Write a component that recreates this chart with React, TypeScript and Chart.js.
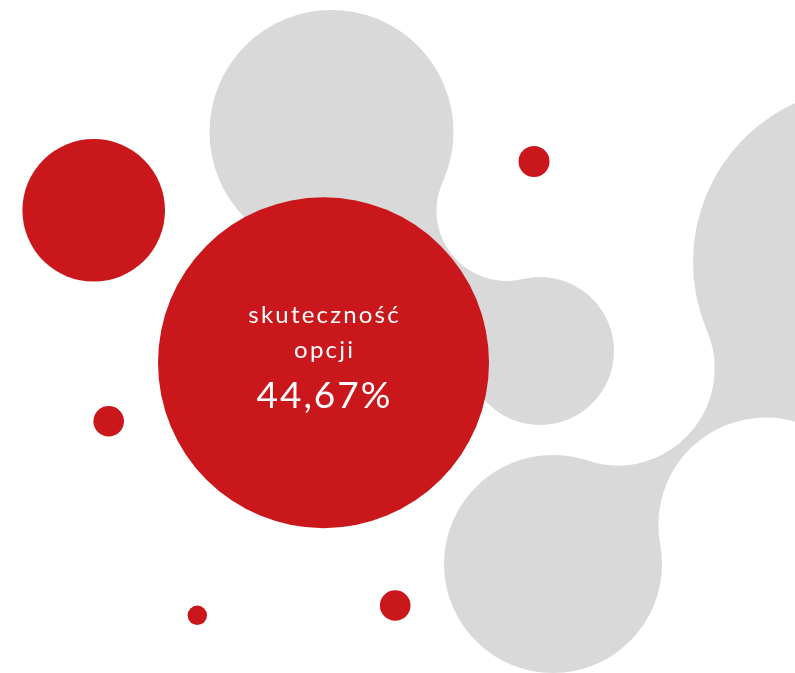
import React, { useEffect, useRef } from "react";
import { Chart, registerables } from "chart.js";

Chart.register(...registerables);

const W = 795;
const H = 673;
const RED = "#C9171C";
const GRAY = "#D9D9D9";

// red bubbles (first one carries the label)
const redX = [323.5, 93.7, 534, 108.7, 197.3, 395.2];
const redY = [362.7, 210.3, 161.5, 421.3, 615.3, 605.5];
const redR = [165.5, 71.3, 15.5, 15.3, 9.7, 15.3];

// gray bubbles
const grayX = [331.5, 540, 868, 553];
const grayY = [132, 351, 262, 564];
const grayR = [122, 74, 175, 109];

// gray bubbles joined by smooth necks
const neckFrom = [0, 2];
const neckTo = [1, 3];
const neckFilletPos = [70, 97];
const neckFilletNeg = [70, 107];

const labelLines = ["skuteczność", "opcji"];
const valueLabel = "44,67%";

const neckPlugin = {
  id: "necks",
  beforeDatasetsDraw(chart: any) {
    const { ctx, scales } = chart;
    const xs = scales.x;
    const ys = scales.y;
    ctx.save();
    ctx.fillStyle = GRAY;
    for (let i = 0; i < neckFrom.length; i++) {
      const a = neckFrom[i];
      const b = neckTo[i];
      const c1x = xs.getPixelForValue(grayX[a]);
      const c1y = ys.getPixelForValue(grayY[a]);
      const c2x = xs.getPixelForValue(grayX[b]);
      const c2y = ys.getPixelForValue(grayY[b]);
      const r1 = grayR[a];
      const r2 = grayR[b];
      const dx = c2x - c1x;
      const dy = c2y - c1y;
      const d = Math.hypot(dx, dy);
      const ux = dx / d;
      const uy = dy / d;
      const nx = -uy;
      const ny = ux;
      const fillet = (R: number, sign: number) => {
        const d1 = r1 + R;
        const d2 = r2 + R;
        const along = (d1 * d1 - d2 * d2 + d * d) / (2 * d);
        const h = Math.sqrt(Math.max(0, d1 * d1 - along * along));
        const px = c1x + ux * along + sign * nx * h;
        const py = c1y + uy * along + sign * ny * h;
        const t1x = c1x + ((px - c1x) * r1) / d1;
        const t1y = c1y + ((py - c1y) * r1) / d1;
        const t2x = c2x + ((px - c2x) * r2) / d2;
        const t2y = c2y + ((py - c2y) * r2) / d2;
        return { px, py, R, t1x, t1y, t2x, t2y };
      };
      const arc = (f: any, sx: number, sy: number, ex: number, ey: number) => {
        const a1 = Math.atan2(sy - f.py, sx - f.px);
        const a2 = Math.atan2(ey - f.py, ex - f.px);
        let diff = a2 - a1;
        while (diff > Math.PI) diff -= 2 * Math.PI;
        while (diff <= -Math.PI) diff += 2 * Math.PI;
        ctx.arc(f.px, f.py, f.R, a1, a2, diff < 0);
      };
      const fp = fillet(neckFilletPos[i], 1);
      const fn = fillet(neckFilletNeg[i], -1);
      ctx.beginPath();
      ctx.moveTo(fp.t1x, fp.t1y);
      arc(fp, fp.t1x, fp.t1y, fp.t2x, fp.t2y);
      ctx.lineTo(fn.t2x, fn.t2y);
      arc(fn, fn.t2x, fn.t2y, fn.t1x, fn.t1y);
      ctx.closePath();
      ctx.fill();
    }
    ctx.restore();
  },
};

const labelPlugin = {
  id: "centerLabel",
  afterDatasetsDraw(chart: any) {
    const { ctx } = chart;
    const el = chart.getDatasetMeta(0).data[0];
    if (!el) return;
    const cx = el.x;
    const cy = el.y;
    ctx.save();
    ctx.fillStyle = "#FFFFFF";
    ctx.textAlign = "center";
    ctx.textBaseline = "alphabetic";
    const draw = (t: string, font: string, ls: number, dy: number) => {
      ctx.font = font;
      try {
        (ctx as any).letterSpacing = ls + "px";
      } catch (e) {}
      ctx.fillText(t, cx + ls / 2, cy + dy);
    };
    draw(labelLines[0], "400 24px Lato", 2.2, -39.4);
    draw(labelLines[1], "400 24px Lato", 2.2, -4.4);
    draw(valueLabel, "400 37px Lato", 2, 45.6);
    ctx.restore();
  },
};

export default function App() {
  const ref = useRef<HTMLCanvasElement | null>(null);
  useEffect(() => {
    document.body.style.margin = "0";
    const canvas = ref.current;
    if (!canvas) return;
    const chart = new Chart(canvas, {
      type: "bubble",
      data: {
        datasets: [
          {
            label: "red",
            data: redX.map((x, i) => ({ x, y: redY[i], r: redR[i] })),
            backgroundColor: RED,
            borderWidth: 0,
            hoverBorderWidth: 0,
            order: 0,
            clip: false,
          },
          {
            label: "gray",
            data: grayX.map((x, i) => ({ x, y: grayY[i], r: grayR[i] })),
            backgroundColor: GRAY,
            borderWidth: 0,
            hoverBorderWidth: 0,
            order: 1,
            clip: false,
          },
        ],
      },
      options: {
        responsive: false,
        maintainAspectRatio: false,
        animation: false,
        events: [],
        layout: { padding: 0, autoPadding: false },
        plugins: {
          legend: { display: false },
          tooltip: { enabled: false },
          title: { display: false },
        },
        scales: {
          x: { type: "linear", min: 0, max: W, display: false },
          y: { type: "linear", min: 0, max: H, reverse: true, display: false },
        },
      } as any,
      plugins: [neckPlugin, labelPlugin],
    });
    return () => chart.destroy();
  }, []);
  return (
    <div style={{ width: W, height: H, background: "#FFFFFF" }}>
      <canvas ref={ref} width={W} height={H} style={{ display: "block", width: W, height: H }} />
    </div>
  );
}
